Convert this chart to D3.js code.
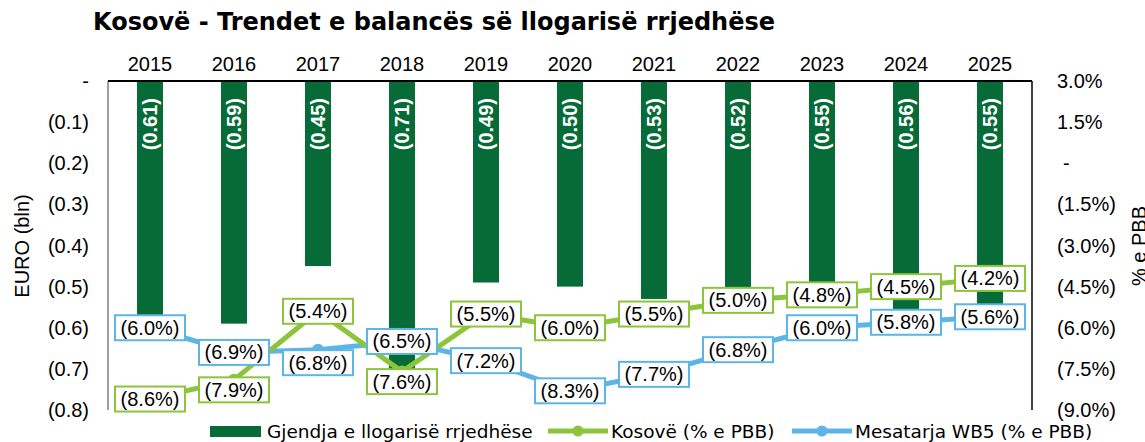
<!DOCTYPE html>
<html>
<head>
<meta charset="utf-8">
<script src="https://cdn.jsdelivr.net/npm/d3@7"></script>
<style>
  body { margin: 0; background: #fff; }
  text { font-family: "Liberation Sans", Arial, sans-serif; fill: #000; }
  text.leg { font-family: "DejaVu Sans", Verdana, sans-serif; font-size: 18.5px; }
</style>
</head>
<body>
<svg width="1145" height="442"></svg>
<script>
// data
var years = ["2015","2016","2017","2018","2019","2020","2021","2022","2023","2024","2025"];
var balance = [-0.61, -0.59, -0.45, -0.71, -0.49, -0.50, -0.53, -0.52, -0.55, -0.56, -0.55];
var kosovo = [-8.6, -7.9, -5.4, -7.6, -5.5, -6.0, -5.5, -5.0, -4.8, -4.5, -4.2];
var wb5 = [-6.0, -6.9, -6.8, -6.5, -7.2, -8.3, -7.7, -6.8, -6.0, -5.8, -5.6];
var leftTicks = [0, -0.1, -0.2, -0.3, -0.4, -0.5, -0.6, -0.7, -0.8];
var rightTicks = [3, 1.5, 0, -1.5, -3, -4.5, -6, -7.5, -9];

var darkGreen = "#076b38", lightGreen = "#8cc43c", blue = "#5db5e6";

var svg = d3.select("svg");
var pLeft = 108, pRight = 1032, pTop = 81, pBottom = 410;

var x = d3.scaleBand().domain(years).range([pLeft, pRight]).paddingInner(0.69).paddingOuter(0.345);
var yL = d3.scaleLinear().domain([-0.8, 0]).range([pBottom, pTop]);
var yR = d3.scaleLinear().domain([-9, 3]).range([pBottom, pTop]);

function fmtNeg(v, digits, pct){
  if (v === 0) return "-";
  var s = Math.abs(v).toFixed(digits) + (pct ? "%" : "");
  return v < 0 ? "(" + s + ")" : s;
}

// title, sized to the width it has in the picture
var title = svg.append("text").attr("x", 93).attr("y", 30)
  .style("font-family", "'DejaVu Sans', Verdana, sans-serif")
  .style("font-weight", "bold").style("font-size", "22px")
  .text("Kosovë - Trendet e balancës së llogarisë rrjedhëse");
var tw = title.node().getComputedTextLength();
title.style("font-size", (22 * 682 / tw).toFixed(2) + "px");

// bars
svg.selectAll(".bar").data(years).enter().append("rect")
  .attr("class", "bar")
  .attr("x", function(d){ return x(d); })
  .attr("y", yL(0))
  .attr("width", x.bandwidth())
  .attr("height", function(d, i){ return yL(balance[i]) - yL(0); })
  .attr("fill", darkGreen);

// bar labels, rotated, near the top
svg.selectAll(".blab").data(years).enter().append("text")
  .attr("transform", function(d){ return "translate(" + (x(d) + x.bandwidth()/2 + 7) + "," + (yL(0) + 17) + ") rotate(-90)"; })
  .attr("text-anchor", "end")
  .style("fill", "#fff").style("font-weight", "bold").style("font-size", "20px")
  .text(function(d, i){ return fmtNeg(balance[i], 2, false); });

// axes lines
svg.append("line").attr("x1", pLeft).attr("x2", pLeft).attr("y1", pTop).attr("y2", pBottom)
  .attr("stroke", "#7f7f7f").attr("stroke-width", 1.5);
svg.append("line").attr("x1", pRight).attr("x2", pRight).attr("y1", pTop).attr("y2", pBottom)
  .attr("stroke", "#000").attr("stroke-width", 1.5);
svg.append("line").attr("x1", pLeft).attr("x2", pRight).attr("y1", pTop).attr("y2", pTop)
  .attr("stroke", "#000").attr("stroke-width", 2);

// year labels on top
svg.selectAll(".year").data(years).enter().append("text")
  .attr("x", function(d){ return x(d) + x.bandwidth()/2; })
  .attr("y", 71).attr("text-anchor", "middle").style("font-size", "20px")
  .text(function(d){ return d; });

// left ticks
svg.selectAll(".lt").data(leftTicks).enter().append("text")
  .attr("x", 89).attr("y", function(d){ return yL(d) + 7; })
  .attr("text-anchor", "end").style("font-size", "20px")
  .text(function(d){ return fmtNeg(d, 1, false); });

// right ticks
svg.selectAll(".rt").data(rightTicks).enter().append("text")
  .attr("x", function(d){ return d === 0 ? 1063 : 1057; }).attr("y", function(d){ return yR(d) + 7; })
  .style("font-size", "20px")
  .text(function(d){ return fmtNeg(d, 1, true); });

// axis titles
svg.append("text").attr("transform", "translate(29,246) rotate(-90)")
  .attr("text-anchor", "middle").style("font-size", "20px").text("EURO (bln)");
svg.append("text").attr("transform", "translate(1146,246) rotate(-90)")
  .attr("text-anchor", "middle").style("font-size", "20px").text("% e PBB");

// lines
var cx = function(d){ return x(d) + x.bandwidth()/2; };
var series = [
  {name: "wb5", values: wb5, color: blue, shift: {"2017": 13}},
  {name: "kos", values: kosovo, color: lightGreen, shift: {"2016": 10, "2018": 10}}
];

series.forEach(function(s){
  var line = d3.line().x(function(d){ return cx(d); }).y(function(d, i){ return yR(s.values[i]); });
  svg.append("path").datum(years).attr("d", line)
    .attr("fill", "none").attr("stroke", s.color).attr("stroke-width", 5).attr("stroke-linejoin", "round");
  svg.selectAll(".m" + s.name).data(years).enter().append("circle")
    .attr("cx", cx).attr("cy", function(d, i){ return yR(s.values[i]); })
    .attr("r", 6).attr("fill", s.color);
});

series.forEach(function(s){
  var g = svg.selectAll(".l" + s.name).data(years).enter().append("g")
    .attr("transform", function(d, i){ return "translate(" + cx(d) + "," + (yR(s.values[i]) + (s.shift[d] || 0)) + ")"; });
  g.append("rect").attr("x", -35).attr("y", -12.5).attr("width", 70).attr("height", 25)
    .attr("fill", "#fff").attr("stroke", s.color).attr("stroke-width", 2);
  g.append("text").attr("y", 7).attr("text-anchor", "middle").style("font-size", "20px")
    .text(function(d, i){ return fmtNeg(s.values[i], 1, true); });
});

// legend
var lg = svg.append("g");
lg.append("rect").attr("x", 210).attr("y", 426).attr("width", 51).attr("height", 11).attr("fill", darkGreen);
lg.append("text").attr("class", "leg").attr("x", 267).attr("y", 438).text("Gjendja e llogarisë rrjedhëse");
var legItems = [
  {x: 548, color: lightGreen, label: "Kosovë (% e PBB)"},
  {x: 792, color: blue, label: "Mesatarja WB5 (% e PBB)"}
];
legItems.forEach(function(it){
  lg.append("line").attr("x1", it.x).attr("x2", it.x + 60).attr("y1", 431).attr("y2", 431)
    .attr("stroke", it.color).attr("stroke-width", 5);
  lg.append("circle").attr("cx", it.x + 30).attr("cy", 431).attr("r", 5.5).attr("fill", it.color);
  lg.append("text").attr("class", "leg").attr("x", it.x + 63).attr("y", 438).text(it.label);
});
</script>
</body>
</html>
